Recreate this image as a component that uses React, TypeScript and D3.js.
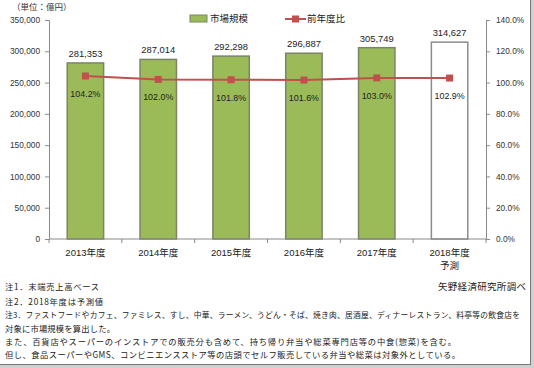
import React, { useRef, useEffect } from 'react';
import * as d3 from 'd3';

const years = ['2013年度', '2014年度', '2015年度', '2016年度', '2017年度', '2018年度'];
const marketSize = [281353, 287014, 292298, 296887, 305749, 314627];
const yoyRatio = [104.2, 102.0, 101.8, 101.6, 103.0, 102.9];
const forecastFlags = [false, false, false, false, false, true];
const leftTicks = [0, 50000, 100000, 150000, 200000, 250000, 300000, 350000];
const rightTicks = [0, 20, 40, 60, 80, 100, 120, 140];
const notes = [
  '注1．末端売上高ベース',
  '注2．2018年度は予測値',
  '注3．ファストフードやカフェ、ファミレス、すし、中華、ラーメン、うどん・そば、焼き肉、居酒屋、ディナーレストラン、料亭等の飲食店を',
  '対象に市場規模を算出した。',
  'また、百貨店やスーパーのインストアでの販売分も含めて、持ち帰り弁当や総菜専門店等の中食(惣菜)を含む。',
  '但し、食品スーパーやGMS、コンビニエンスストア等の店頭でセルフ販売している弁当や総菜は対象外としている。',
];
const noteWidths = [94, 98, 515, 110, 451, 455];
const noteSizes = [8.3, 8.3, 7.75, 8.3, 8.3, 8.3];

const W = 534;
const H = 368;
const FONT = '"Liberation Sans", "Noto Sans CJK JP", sans-serif';
const JP = '"Noto Sans CJK JP", sans-serif';

const App = () => {
  const svgRef = useRef<SVGSVGElement>(null);

  useEffect(() => {
    document.body.style.margin = '0';
    const svg = d3.select(svgRef.current);
    svg.selectAll('*').remove();

    const left = 49, right = 486, top = 20, bottom = 239;

    svg.append('rect').attr('width', W).attr('height', H).attr('fill', '#fff');

    const x = d3.scaleBand().domain(years).range([left, right]).paddingInner(0.5).paddingOuter(0.25);
    const yL = d3.scaleLinear().domain([0, 350000]).range([bottom, top]);
    const yR = d3.scaleLinear().domain([0, 140]).range([bottom, top]);

    // axes
    const axisColor = '#8a8a8a';
    const gl = svg.append('g').attr('transform', `translate(${left},0)`)
      .call(d3.axisLeft(yL).tickValues(leftTicks).tickSize(4).tickFormat(d => d3.format(',')(d as number)));
    const gr = svg.append('g').attr('transform', `translate(${right},0)`)
      .call(d3.axisRight(yR).tickValues(rightTicks).tickSize(4).tickFormat(d => `${(d as number).toFixed(1)}%`));
    [gl, gr].forEach(g => {
      g.select('.domain').attr('stroke', axisColor);
      g.selectAll('.tick line').attr('stroke', axisColor);
      g.selectAll('.tick text').attr('font-family', FONT).attr('font-size', 8.3).attr('fill', '#333');
    });
    gl.selectAll('.tick text').attr('x', -9);
    gr.selectAll('.tick text').attr('x', 10);

    // bars
    svg.append('g').selectAll('rect')
      .data(marketSize)
      .enter()
      .append('rect')
      .attr('x', (d, i) => x(years[i])!)
      .attr('y', d => yL(d))
      .attr('width', x.bandwidth())
      .attr('height', d => bottom - yL(d))
      .attr('fill', (d, i) => forecastFlags[i] ? '#fff' : '#9bbb59')
      .attr('stroke', (d, i) => forecastFlags[i] ? '#8c8c8c' : '#7b8566')
      .attr('stroke-width', 1.5);

    // x axis
    svg.append('line').attr('x1', left).attr('x2', right).attr('y1', bottom).attr('y2', bottom).attr('stroke', axisColor);
    const step = x.step();
    d3.range(years.length + 1).forEach(i => {
      const tx = left + i * step;
      svg.append('line').attr('x1', tx).attr('x2', tx).attr('y1', bottom).attr('y2', bottom + 4).attr('stroke', axisColor);
    });
    svg.append('g').selectAll('text')
      .data(years)
      .enter()
      .append('text')
      .attr('x', d => x(d)! + x.bandwidth() / 2)
      .attr('y', 256)
      .attr('text-anchor', 'middle')
      .attr('font-family', FONT)
      .attr('font-size', 9.5)
      .attr('fill', '#222')
      .text(d => d);
    svg.append('text')
      .attr('x', x(years[5])! + x.bandwidth() / 2)
      .attr('y', 269)
      .attr('text-anchor', 'middle')
      .attr('font-family', JP)
      .attr('font-size', 9.5)
      .attr('fill', '#222')
      .text('予測');

    // value labels
    svg.append('g').selectAll('text')
      .data(marketSize)
      .enter()
      .append('text')
      .attr('x', (d, i) => x(years[i])! + x.bandwidth() / 2)
      .attr('y', d => yL(d) - 6)
      .attr('text-anchor', 'middle')
      .attr('font-family', FONT)
      .attr('font-size', 9.4)
      .attr('fill', '#222')
      .text(d => d3.format(',')(d));

    // line
    const cx = (i: number) => x(years[i])! + x.bandwidth() / 2;
    const line = d3.line<number>().x((d, i) => cx(i)).y(d => yR(d));
    svg.append('path').attr('d', line(yoyRatio)).attr('fill', 'none').attr('stroke', '#c0504d').attr('stroke-width', 2);
    svg.append('g').selectAll('rect')
      .data(yoyRatio)
      .enter()
      .append('rect')
      .attr('x', (d, i) => cx(i) - 3.5)
      .attr('y', d => yR(d) - 3.5)
      .attr('width', 7)
      .attr('height', 7)
      .attr('fill', '#c0504d');
    svg.append('g').selectAll('text')
      .data(yoyRatio)
      .enter()
      .append('text')
      .attr('x', (d, i) => cx(i))
      .attr('y', d => yR(d) + 21)
      .attr('text-anchor', 'middle')
      .attr('font-family', FONT)
      .attr('font-size', 8.9)
      .attr('fill', '#222')
      .text(d => `${d.toFixed(1)}%`);

    // unit
    svg.append('text').attr('x', 12).attr('y', 10).attr('font-family', JP).attr('font-size', 8.5).attr('fill', '#333').text('（単位：億円）');

    // legend
    svg.append('rect').attr('x', 190).attr('y', 15).attr('width', 17).attr('height', 7)
      .attr('fill', '#9bbb59').attr('stroke', '#7b8566').attr('stroke-width', 1);
    svg.append('text').attr('x', 210).attr('y', 22).attr('font-family', JP).attr('font-size', 9.5).attr('fill', '#222').text('市場規模');
    svg.append('line').attr('x1', 285).attr('x2', 306).attr('y1', 19).attr('y2', 19).attr('stroke', '#c0504d').attr('stroke-width', 2);
    svg.append('rect').attr('x', 292).attr('y', 15.5).attr('width', 7).attr('height', 7).attr('fill', '#c0504d');
    svg.append('text').attr('x', 307).attr('y', 22).attr('font-family', JP).attr('font-size', 9.5).attr('fill', '#222').text('前年度比');

    // notes
    const noteY = [290, 305, 318, 332, 345, 358];
    notes.forEach((t, i) => {
      svg.append('text')
        .attr('x', 5)
        .attr('y', noteY[i])
        .attr('font-family', JP)
        .attr('font-size', noteSizes[i])
        .attr('fill', '#222')
        .attr('textLength', noteWidths[i])
        .attr('lengthAdjust', 'spacing')
        .text(t);
    });
    svg.append('text').attr('x', 438).attr('y', 290)
      .attr('font-family', JP).attr('font-size', 9.5).attr('fill', '#222')
      .attr('textLength', 88).attr('lengthAdjust', 'spacing').text('矢野経済研究所調べ');

    // frame shadow
    svg.append('rect').attr('x', 530).attr('y', 0).attr('width', 4).attr('height', 368).attr('fill', '#d0d0d0');
    svg.append('rect').attr('x', 0).attr('y', 364).attr('width', 534).attr('height', 4).attr('fill', '#d0d0d0');
    svg.append('line').attr('x1', 530.5).attr('x2', 530.5).attr('y1', 0).attr('y2', 364).attr('stroke', '#777');
    svg.append('line').attr('x1', 0).attr('x2', 531).attr('y1', 364.5).attr('y2', 364.5).attr('stroke', '#777');
  }, []);

  return (
    <svg ref={svgRef} width={W} height={H} viewBox={`0 0 ${W} ${H}`} style={{ display: 'block' }}></svg>
  );
};

export default App;
